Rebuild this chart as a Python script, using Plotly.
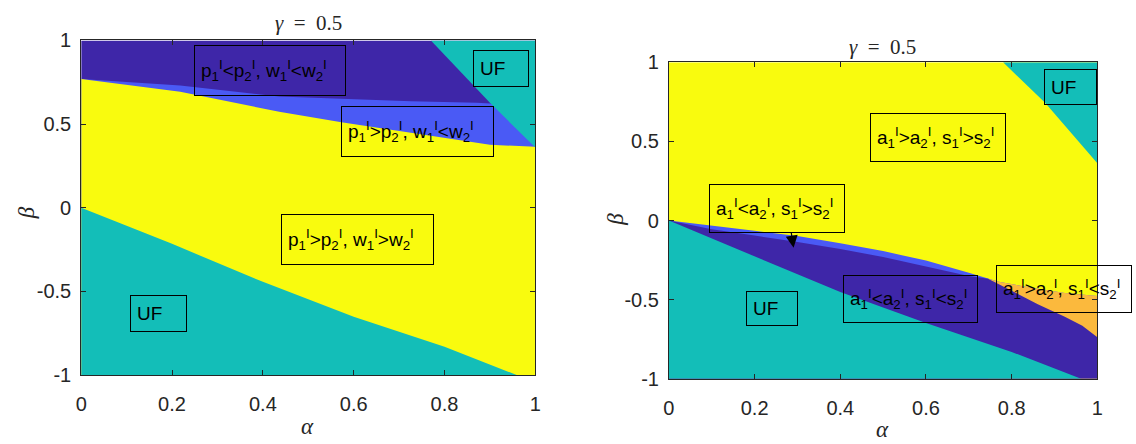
import plotly.graph_objects as go

W, H = 1136, 444

# ---------------- data ----------------
gamma_label = "<i>γ</i>\u2002=\u20020.5"
x_ticks = [0, 0.2, 0.4, 0.6, 0.8, 1]
x_tick_text = ["0", "0.2", "0.4", "0.6", "0.8", "1"]
y_ticks = [-1, -0.5, 0, 0.5, 1]
y_tick_text = ["-1", "-0.5", "0", "0.5", "1"]

# Left panel boundaries (alpha, beta)
L_dark_med_alpha = [0, 0.218, 0.436, 0.58, 0.726, 0.871, 0.92, 1.0]
L_dark_med_beta = [0.769, 0.731, 0.665, 0.65, 0.636, 0.627, 0.62, 0.60]
L_yellow_top_alpha = [0, 0.218, 0.436, 0.573, 0.726, 0.9, 1.0]
L_yellow_top_beta = [0.769, 0.693, 0.574, 0.511, 0.448, 0.376, 0.365]
L_uf_low_alpha = [0, 0.2, 0.4, 0.6, 0.8, 0.959]
L_uf_low_beta = [0, -0.216, -0.443, -0.651, -0.831, -1.0]
L_uf_top_alpha = [0.77, 0.9, 1.0]
L_uf_top_beta = [1.0, 0.627, 0.36]

# Right panel boundaries (alpha, beta)
R_yel_med_alpha = [0, 0.1, 0.2, 0.3, 0.4, 0.5, 0.6, 0.7, 0.745]
R_yel_med_beta = [0, -0.030, -0.064, -0.098, -0.143, -0.193, -0.253, -0.330, -0.367]
R_yel_org_alpha = [0.745, 0.77, 0.847, 0.924, 1.0]
R_yel_org_beta = [-0.367, -0.387, -0.425, -0.457, -0.477]
R_med_dark_alpha = [0, 0.1, 0.2, 0.3, 0.4, 0.5, 0.6, 0.7, 0.745]
R_med_dark_beta = [0, -0.055, -0.095, -0.135, -0.180, -0.230, -0.290, -0.350, -0.367]
R_org_dark_alpha = [0.745, 0.80, 0.861, 0.924, 0.965, 1.0]
R_org_dark_beta = [-0.367, -0.445, -0.528, -0.608, -0.665, -0.738]
R_uf_low_alpha = [0, 0.2, 0.4, 0.6, 0.8, 0.962]
R_uf_low_beta = [0, -0.227, -0.452, -0.648, -0.83, -1.0]
R_uf_top_alpha = [0.78, 0.878, 1.0]
R_uf_top_beta = [1.0, 0.744, 0.363]

# Region labels: (text, alpha_left, beta_center, box width px, box height px)
L_labels = [
    ("p<sub>1</sub><sup>I</sup>&lt;p<sub>2</sub><sup>I</sup>, w<sub>1</sub><sup>I</sup>&lt;w<sub>2</sub><sup>I</sup>", 0.248, 0.818, 151, 50),
    ("p<sub>1</sub><sup>I</sup>&gt;p<sub>2</sub><sup>I</sup>, w<sub>1</sub><sup>I</sup>&lt;w<sub>2</sub><sup>I</sup>", 0.573, 0.455, 152, 50),
    ("UF", 0.863, 0.835, 55, 36),
    ("p<sub>1</sub><sup>I</sup>&gt;p<sub>2</sub><sup>I</sup>, w<sub>1</sub><sup>I</sup>&gt;w<sub>2</sub><sup>I</sup>", 0.440, -0.1875, 152, 50),
    ("UF", 0.107, -0.631, 56, 36),
]
R_labels = [
    ("UF", 0.875, 0.847, 52, 35),
    ("a<sub>1</sub><sup>I</sup>&gt;a<sub>2</sub><sup>I</sup>, s<sub>1</sub><sup>I</sup>&gt;s<sub>2</sub><sup>I</sup>", 0.469, 0.526, 135, 48),
    ("a<sub>1</sub><sup>I</sup>&lt;a<sub>2</sub><sup>I</sup>, s<sub>1</sub><sup>I</sup>&gt;s<sub>2</sub><sup>I</sup>", 0.0947, 0.075, 135, 48),
    ("UF", 0.181, -0.556, 51, 34),
    ("a<sub>1</sub><sup>I</sup>&lt;a<sub>2</sub><sup>I</sup>, s<sub>1</sub><sup>I</sup>&lt;s<sub>2</sub><sup>I</sup>", 0.406, -0.494, 134, 47),
    ("a<sub>1</sub><sup>I</sup>&gt;a<sub>2</sub><sup>I</sup>, s<sub>1</sub><sup>I</sup>&lt;s<sub>2</sub><sup>I</sup>", 0.764, -0.435, 135, 47),
]
# arrow (tail alpha, tail beta, head alpha, head beta)
R_arrow = (0.285, -0.067, 0.291, -0.171)

# ---------------- styling ----------------
C_DARK = "#3E26A8"
C_MED = "#4A5AF5"
C_TEAL = "#13BEB8"
C_YEL = "#F9FB0E"
C_ORG = "#FBB93D"
AX = "#262626"
SANS = "Liberation Sans, Arial, sans-serif"
SERIF = "Liberation Serif, Times New Roman, serif"

XMIN, XMAX, YMIN, YMAX = 0, 1, -1, 1

fig = go.Figure()


def poly(xs, ys, color, xa, ya):
    fig.add_trace(go.Scatter(x=xs, y=ys, mode="lines", fill="toself", fillcolor=color,
                             line=dict(width=0, color=color), hoverinfo="skip",
                             showlegend=False, xaxis=xa, yaxis=ya))


def below(ax, by):
    # region beneath a boundary curve, closed along the bottom of the axes
    return list(ax) + [ax[-1], ax[0]], list(by) + [YMIN, YMIN]


# Left panel
poly([XMIN, XMAX, XMAX, XMIN], [YMIN, YMIN, YMAX, YMAX], C_DARK, "x", "y")
x, y = below(L_dark_med_alpha, L_dark_med_beta)
poly(x, y, C_MED, "x", "y")
x, y = below(L_yellow_top_alpha, L_yellow_top_beta)
poly(x, y, C_YEL, "x", "y")
x, y = below(L_uf_low_alpha, L_uf_low_beta)
poly(x, y, C_TEAL, "x", "y")
poly(L_uf_top_alpha + [XMAX], L_uf_top_beta + [YMAX], C_TEAL, "x", "y")

# Right panel
poly([XMIN, XMAX, XMAX, XMIN], [YMIN, YMIN, YMAX, YMAX], C_YEL, "x2", "y2")
poly(R_uf_top_alpha + [XMAX], R_uf_top_beta + [YMAX], C_TEAL, "x2", "y2")
x, y = below(R_yel_med_alpha + R_yel_org_alpha[1:], R_yel_med_beta + R_yel_org_beta[1:])
poly(x, y, C_MED, "x2", "y2")
x, y = below(R_yel_org_alpha, R_yel_org_beta)
poly(x, y, C_ORG, "x2", "y2")
x, y = below(R_med_dark_alpha + R_org_dark_alpha[1:], R_med_dark_beta + R_org_dark_beta[1:])
poly(x, y, C_DARK, "x2", "y2")
x, y = below(R_uf_low_alpha, R_uf_low_beta)
poly(x, y, C_TEAL, "x2", "y2")

axis_common = dict(showgrid=False, zeroline=False, showline=True, mirror="ticks",
                   linecolor=AX, linewidth=1, ticks="inside", ticklen=5, tickwidth=1,
                   tickcolor=AX, tickfont=dict(family=SANS, size=20, color=AX))

xl = dict(axis_common, range=[XMIN, XMAX], tickvals=x_ticks, ticktext=x_tick_text, ticklabelstandoff=11)
yl = dict(axis_common, range=[YMIN, YMAX], tickvals=y_ticks, ticktext=y_tick_text, ticklabelstandoff=5)

fig.update_layout(
    width=W, height=H, margin=dict(l=0, r=0, t=0, b=0),
    paper_bgcolor="white", plot_bgcolor="white", showlegend=False,
    xaxis=dict(xl, domain=[76 / W, 535 / W], anchor="y"),
    yaxis=dict(yl, domain=[1 - 383 / H, 1 - 31 / H], anchor="x"),
    xaxis2=dict(xl, domain=[670 / W, 1103 / W], anchor="y2"),
    yaxis2=dict(yl, domain=[1 - 387 / H, 1 - 54 / H], anchor="x2"),
)

PAD = 6
ann = []
for labels, xr, yr in ((L_labels, "x", "y"), (R_labels, "x2", "y2")):
    for text, a, b, bw, bh in labels:
        ann.append(dict(text=text, x=a, y=b, xref=xr, yref=yr, xanchor="left", yanchor="middle",
                        showarrow=False, align="left", valign="middle",
                        width=bw - 2 * PAD - 1, height=bh - 2 * PAD - 1, borderpad=PAD,
                        bordercolor="black", borderwidth=1,
                        font=dict(family=SANS, size=19, color="black")))

ta, tb, ha, hb = R_arrow
ann.append(dict(text="", x=ha, y=hb, ax=ta, ay=tb, xref="x2", yref="y2", axref="x2", ayref="y2",
                showarrow=True, arrowhead=2, arrowsize=2, arrowwidth=1.2, arrowcolor="black"))


def px(xp, yp):
    return xp / W, 1 - yp / H


# titles and axis labels
for (xp, yp), txt, ang, sz in (
    ((306, 13), gamma_label, 0, 21),
    ((886, 38), gamma_label, 0, 21),
    ((305, 437), "<i>α</i>", 0, 23),
    ((886, 440), "<i>α</i>", 0, 23),
    ((21, 212), "<i>β</i>", -90, 23),
    ((616, 219), "<i>β</i>", -90, 23),
):
    X, Y = px(xp, yp)
    ann.append(dict(text=txt, x=X, y=Y, xref="paper", yref="paper", showarrow=False,
                    xanchor="center", yanchor="middle", textangle=ang,
                    font=dict(family=SERIF, size=sz, color=AX)))

fig.update_layout(annotations=ann)
fig.write_html("out.html")
